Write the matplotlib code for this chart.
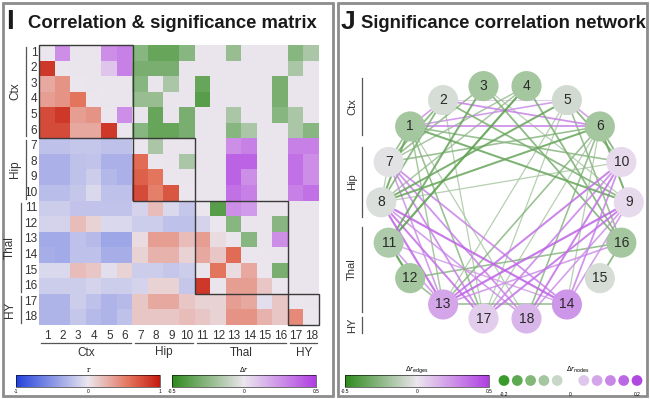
import numpy as np
import matplotlib
matplotlib.use('Agg')
import matplotlib.pyplot as plt
from matplotlib.colors import LinearSegmentedColormap, Normalize
from matplotlib.patches import Rectangle
from matplotlib.cm import ScalarMappable

plt.rcParams['font.family'] = ['Liberation Sans', 'DejaVu Sans']

# ---------------- data ----------------
regions = [str(i) for i in range(1, 19)]
groups = ['Ctx', 'Hip', 'Thal', 'HY']
group_sizes = [6, 4, 6, 2]

# lower triangle: correlation r (row i, columns 1..i-1)
r_lower = [
    [],
    [0.85],
    [0.30, 0.40],
    [0.35, 0.40, 0.55],
    [0.75, 0.85, 0.35, 0.40],
    [0.75, 0.75, 0.30, 0.30, 0.85],
    [-0.22, -0.22, -0.19, -0.19, -0.22, -0.22],
    [-0.32, -0.32, -0.22, -0.21, -0.32, -0.32, 0.60],
    [-0.32, -0.32, -0.22, -0.15, -0.28, -0.32, 0.65, 0.55],
    [-0.25, -0.25, -0.19, -0.08, -0.22, -0.22, 0.75, 0.50, 0.70],
    [-0.15, -0.15, -0.21, -0.21, -0.21, -0.21, -0.11, 0.20, -0.08, -0.19],
    [-0.11, -0.11, 0.20, 0.10, -0.08, -0.08, -0.15, -0.15, -0.22, -0.22, -0.11],
    [-0.36, -0.36, -0.22, -0.26, -0.39, -0.39, 0.05, 0.35, 0.35, 0.20, 0.35, 0.05],
    [-0.34, -0.36, -0.22, -0.22, -0.34, -0.34, 0.10, 0.25, 0.25, 0.10, 0.30, 0.15, 0.60],
    [-0.08, -0.08, 0.20, 0.15, -0.04, 0.10, -0.15, -0.15, -0.19, -0.15, 0.00, 0.55, 0.05, 0.30],
    [-0.15, -0.15, -0.15, -0.11, -0.15, -0.15, -0.11, 0.10, 0.10, -0.19, 0.85, 0.00, 0.35, 0.35, 0.15],
    [-0.30, -0.30, -0.15, -0.22, -0.30, -0.26, 0.15, 0.30, 0.30, 0.15, 0.10, 0.10, 0.35, 0.30, -0.04, 0.15],
    [-0.30, -0.30, -0.19, -0.26, -0.30, -0.22, 0.15, 0.15, 0.15, 0.20, 0.15, 0.10, 0.40, 0.40, 0.25, 0.15, 0.45],
]

# upper triangle: significant change in correlation (row i, columns i+1..18)
dr_upper = [
    [0.26, 0, 0, 0.26, 0.30, -0.26, -0.35, -0.35, -0.26, 0, 0, -0.22, 0, 0, 0, -0.26, -0.17],
    [0, 0, 0.10, 0.30, -0.30, -0.30, -0.30, 0, 0, 0, 0, 0, 0, 0, -0.17, 0],
    [0, 0, 0, -0.26, 0, -0.17, 0, -0.35, 0, 0, 0, 0, -0.30, 0, 0],
    [0, 0, -0.22, -0.22, 0, 0, -0.39, 0, 0, 0, 0, -0.30, 0, 0],
    [0.26, 0, -0.35, 0, -0.30, 0, 0, -0.17, 0, 0, -0.26, -0.17, 0],
    [-0.26, -0.35, -0.35, -0.30, 0, 0, -0.26, -0.17, 0, 0, -0.17, -0.26],
    [-0.17, 0, 0, 0, 0, 0.26, 0.30, 0, 0, 0.30, 0.30],
    [0, -0.17, 0, 0, 0.39, 0.39, 0, 0, 0.35, 0.26],
    [0, 0, 0, 0.39, 0.26, 0, 0, 0.35, 0.26],
    [0, 0, 0.35, 0.30, 0, 0, 0.30, 0.35],
    [-0.39, 0.26, 0.22, 0, 0, 0, 0],
    [-0.26, 0, 0, -0.26, 0, 0],
    [-0.26, 0, 0.26, 0, 0],
    [0, 0, 0, 0],
    [-0.30, 0, 0],
    [0, 0],
    [0],
]

# node change in correlation (regions 1..18)
node_dr = [-0.08, -0.025, -0.08, -0.08, -0.03, -0.08, -0.01, -0.02, 0.015,
           0.015, -0.07, -0.08, 0.08, 0.10, -0.025, -0.08, 0.03, 0.06]

# order of nodes around the circle (counter-clockwise from the top-left)
ring_order = [3, 2, 1, 7, 8, 11, 12, 13, 17, 18, 14, 15, 16, 9, 10, 6, 5, 4]

node_legend_vals = [-0.2, -0.16, -0.12, -0.08, -0.04, 0.04, 0.08, 0.12, 0.16, 0.2]

# ---------------- colours ----------------
NEUTRAL = '#ebe6ee'
cmap_r = LinearSegmentedColormap.from_list(
    'r', [(0, '#2442dc'), (0.5, NEUTRAL), (0.78, '#e4745c'), (1, '#c41a10')])
cmap_dr = LinearSegmentedColormap.from_list(
    'dr', [(0, '#2f8a1c'), (0.5, NEUTRAL), (1, '#b03ee2')])
cmap_node = LinearSegmentedColormap.from_list(
    'nd', [(0, '#3a9a2a'), (0.5, NEUTRAL), (1, '#b148e2')])
norm_r = Normalize(-1, 1)
norm_dr = Normalize(-0.5, 0.5)
norm_node = Normalize(-0.2, 0.2)

N = len(regions)
lower = np.full((N, N), np.nan)
upper = np.full((N, N), np.nan)
for i, row in enumerate(r_lower):
    for j, v in enumerate(row):
        lower[i, j] = v
for i, row in enumerate(dr_upper):
    for k, v in enumerate(row):
        upper[i, i + 1 + k] = v

W, H = 650, 399
fig = plt.figure(figsize=(W / 100, H / 100), dpi=100)
fig.patch.set_facecolor('white')


def rect(x0, y0, x1, y1):
    """pixel box (top-left origin) -> figure fraction rect"""
    return [x0 / W, 1 - y1 / H, (x1 - x0) / W, (y1 - y0) / H]


# ---------------- panel I : matrix ----------------
ax = fig.add_axes(rect(39.3, 45, 319.3, 325))
ax.set_facecolor(NEUTRAL)
ax.imshow(np.ma.masked_invalid(lower), cmap=cmap_r, norm=norm_r,
          aspect='auto', interpolation='nearest')
ax.imshow(np.ma.masked_invalid(upper), cmap=cmap_dr, norm=norm_dr,
          aspect='auto', interpolation='nearest')
ax.set_xlim(-0.5, N - 0.5)
ax.set_ylim(N - 0.5, -0.5)
for s in ax.spines.values():
    s.set_visible(False)
ax.set_xticks([])
ax.set_yticks([])

starts = np.cumsum([0] + group_sizes[:-1])
for s0, n in zip(starts, group_sizes):
    ax.add_patch(Rectangle((s0 - 0.5, s0 - 0.5), n, n, fill=False,
                           ec='#3a3a3a', lw=1.0, clip_on=False))

for i, lab in enumerate(regions):
    ax.text(-0.62, i, lab, ha='right', va='center', fontsize=8.5,
            color='#333333', clip_on=False)
    ax.text(i, N - 0.5 + 0.35, lab, ha='center', va='top', fontsize=8.5,
            color='#333333', clip_on=False)

# overlay for decorations in pixel coordinates
ov = fig.add_axes([0, 0, 1, 1])
ov.set_xlim(0, W)
ov.set_ylim(H, 0)
ov.axis('off')
ov.patch.set_alpha(0)

# panel frames
ov.add_patch(Rectangle((3, 3), 330, 393, fill=False, ec='#8c8c8c', lw=2))
ov.add_patch(Rectangle((338, 3), 309, 393, fill=False, ec='#8c8c8c', lw=2))

ov.text(6, 22, 'I', fontsize=20, fontweight='bold', va='center', ha='left',
        color='#1a1a1a')
ov.text(28, 23, 'Correlation & significance matrix', fontsize=13.3,
        fontweight='bold', va='center', ha='left', color='#1a1a1a')
ov.text(341, 22, 'J', fontsize=19, fontweight='bold', va='center', ha='left',
        color='#1a1a1a')
ov.text(361, 23, 'Significance correlation network', fontsize=13.3,
        fontweight='bold', va='center', ha='left', color='#1a1a1a')

# matrix group annotations (left & bottom)
cell_h = 280 / N
cell_w = 280 / N
for g, s0, n in zip(groups, starts, group_sizes):
    y0 = 45 + s0 * cell_h + 2
    y1 = 45 + (s0 + n) * cell_h - 2
    lx = 26 if s0 < 10 else 21
    ov.plot([lx, lx], [y0, y1], color='#555555', lw=0.9)
    ov.text(lx - 11, (y0 + y1) / 2, g, rotation=90, ha='center',
            va='center', fontsize=8.5, color='#333333')
    x0 = 39.3 + s0 * cell_w + 2
    x1 = 39.3 + (s0 + n) * cell_w - 2
    ov.plot([x0, x1], [342.7, 342.7], color='#555555', lw=0.9)
    ov.text((x0 + x1) / 2, 352.5, g, ha='center', va='center',
            fontsize=8.5, color='#333333')


# colorbars
def hbar(x0, x1, cmap, norm, ticks, ticklabels, label):
    cax = fig.add_axes(rect(x0, 375, x1, 387))
    cb = fig.colorbar(ScalarMappable(norm=norm, cmap=cmap), cax=cax,
                      orientation='horizontal')
    cb.outline.set_linewidth(0.4)
    cb.set_ticks(ticks)
    cb.set_ticklabels(ticklabels)
    cax.tick_params(labelsize=3.5, length=0, pad=1.5)
    ov.text((x0 + x1) / 2, 370, label, ha='center', va='center',
            fontsize=5, family='DejaVu Serif')
    return cax


hbar(16, 160, cmap_r, norm_r, [-1, 0, 1], ['-1', '0', '1'], 'r')
hbar(172, 316, cmap_dr, norm_dr, [-0.5, 0, 0.5], ['-0.5', '0', '0.5'],
     r'$\Delta r$')

# ---------------- panel J : network ----------------
cx, cy, rx, ry = 505, 202.3, 123.8, 118
nx0, nx1, ny0, ny1 = 370, 640, 60, 345
axn = fig.add_axes(rect(nx0, ny0, nx1, ny1))
axn.set_xlim((nx0 - cx) / rx, (nx1 - cx) / rx)
axn.set_ylim((cy - ny1) / ry, (cy - ny0) / ry)
axn.axis('off')
axn.patch.set_alpha(0)

pos = {}
for k, node in enumerate(ring_order):
    a = np.deg2rad(100 + 20 * k)
    pos[node] = (np.cos(a), np.sin(a))

edges = []
for i in range(N):
    for j in range(i + 1, N):
        v = upper[i, j]
        if not np.isnan(v) and v != 0:
            edges.append((abs(v), i + 1, j + 1, v))
edges.sort()
for _, a, b, v in edges:
    (x0, y0), (x1, y1) = pos[a], pos[b]
    axn.plot([x0, x1], [y0, y1], color=cmap_dr(norm_dr(v)),
             lw=0.4 + 3.0 * abs(v), alpha=0.85, solid_capstyle='round',
             zorder=1, clip_on=False)

xs = [pos[n][0] for n in range(1, N + 1)]
ys = [pos[n][1] for n in range(1, N + 1)]
axn.scatter(xs, ys, s=470, c=node_dr, cmap=cmap_node, norm=norm_node,
            edgecolors='none', zorder=3, clip_on=False)
for n in range(1, N + 1):
    axn.text(pos[n][0], pos[n][1], str(n), ha='center', va='center',
             fontsize=10, color='#2a2a2a', zorder=4)

# network group annotations
for g, (y0, y1) in zip(groups, [(78, 135), (147, 217), (227, 312), (317, 333)]):
    ov.plot([362, 362], [y0, y1], color='#555555', lw=0.9)
    ov.text(352, (y0 + y1) / 2, g, rotation=90, ha='center', va='center',
            fontsize=8, color='#333333')

hbar(345, 489, cmap_dr, norm_dr, [-0.5, 0, 0.5], ['-0.5', '0', '0.5'],
     r'$\Delta r_{\mathrm{edges}}$')

# node colour legend
lax = fig.add_axes(rect(495, 370, 646, 398))
lax.set_xlim(-0.227, 0.227)
lax.set_ylim(-1, 1)
lax.axis('off')
lax.scatter(node_legend_vals, [0.25] * len(node_legend_vals), s=60,
            c=node_legend_vals, cmap=cmap_node, norm=norm_node,
            edgecolors='none')
for t, lab in zip([-0.2, 0, 0.2], ['-0.2', '0', '0.2']):
    lax.text(t, -0.75, lab, ha='center', va='center', fontsize=3.5)
ov.text(578, 370, r'$\Delta r_{\mathrm{nodes}}$', ha='center', va='center',
        fontsize=5)

fig.savefig('out.png', dpi=100, facecolor='white')
